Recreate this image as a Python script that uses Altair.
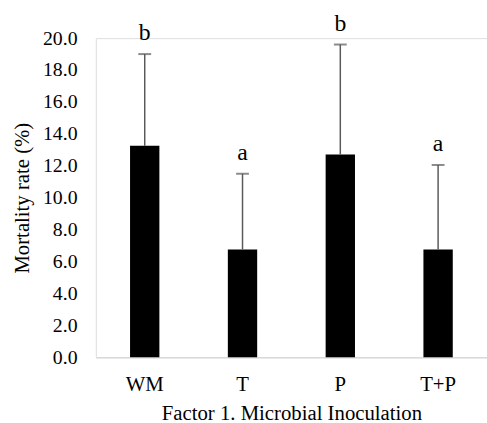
import altair as alt
import pandas as pd

categories = ["WM", "T", "P", "T+P"]
means = [13.25, 6.75, 12.7, 6.75]
upper = [19.0, 11.5, 19.6, 12.05]
letters = ["b", "a", "b", "a"]

df = pd.DataFrame({"cat": categories, "mean": means, "upper": upper, "letter": letters})

FONT = "Liberation Serif"

x = alt.X("cat:N", sort=categories,
          scale=alt.Scale(paddingInner=0.7, paddingOuter=0.35),
          axis=alt.Axis(title="Factor 1. Microbial  Inoculation", labelAngle=0))
yaxis = alt.Axis(title="Mortality rate (%)", values=list(range(0, 21, 2)), format=".1f",
                 labelFont=FONT, labelFontSize=20)
yscale = alt.Scale(domain=[0, 20], nice=False)

base = alt.Chart(df)

bars = base.mark_bar(color="black").encode(
    x=x, y=alt.Y("mean:Q", scale=yscale, axis=yaxis))
rule = base.mark_rule(color="#595959", strokeWidth=1.5).encode(
    x=x, y=alt.Y("mean:Q", scale=yscale, axis=yaxis), y2="upper:Q")
cap = base.mark_tick(color="#595959", thickness=2, size=13, orient="horizontal").encode(
    x=x, y=alt.Y("upper:Q", scale=yscale, axis=yaxis))
text = base.mark_text(baseline="bottom", dy=-9, fontSize=24, font=FONT, color="black").encode(
    x=x, y=alt.Y("upper:Q", scale=yscale, axis=yaxis), text="letter:N")

chart = alt.layer(bars, rule, cap, text).properties(
    width=396, height=323,
    padding={"left": 97, "top": 36, "right": 0, "bottom": 64},
    autosize=alt.AutoSizeParams(type="none"),
).configure_view(stroke=None).configure(background="white").configure_axis(
    labelFont=FONT, titleFont=FONT, titleFontWeight="normal",
    labelColor="black", titleColor="black", ticks=False, grid=False,
).configure_axisX(
    domainColor="#d9d9d9", domainWidth=1.5, labelPadding=17,
    labelFontSize=21, titleFontSize=21, titlePadding=8,
).configure_axisY(
    domain=False, labelPadding=19, labelOverlap=False, labelBound=False,
    labelFontSize=20, titleFontSize=21, titlePadding=10,
)

chart.save("out.html", embed_options={"renderer": "svg", "actions": False})
